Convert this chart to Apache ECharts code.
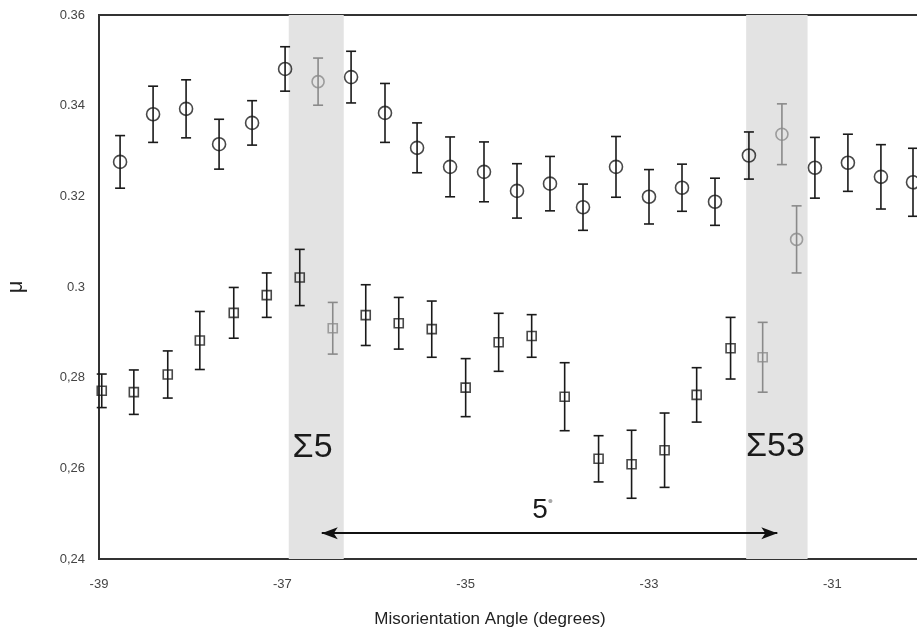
<!DOCTYPE html>
<html>
<head>
<meta charset="utf-8">
<script src="https://cdn.jsdelivr.net/npm/echarts@6/dist/echarts.min.js"></script>
<style>
html,body{margin:0;padding:0;background:#fff;}
#chart{width:917px;height:635px;}
</style>
</head>
<body>
<div id="chart"></div>
<script>
// ---- Data ----
const xTickLabels = [-39, -37, -35, -33, -31];
const yTickLabels = {"0.24":"0,24","0.26":"0,26","0.28":"0,28","0.3":"0.3","0.32":"0.32","0.34":"0.34","0.36":"0.36"};

// circles (upper series): angle, mu, error
const circleX   = [-38.77,-38.41,-38.05,-37.69,-37.33,-36.97,-36.25,-35.88,-35.53,-35.17,-34.80,-34.44,-34.08,-33.72,-33.36,-33.00,-32.64,-32.28,-31.91,-31.19,-30.83,-30.47,-30.12];
const circleY   = [0.3276,0.3381,0.3393,0.3315,0.3362,0.3481,0.3463,0.3384,0.3307,0.3265,0.3254,0.3212,0.3228,0.3176,0.3265,0.3199,0.3219,0.3188,0.3290,0.3263,0.3274,0.3243,0.3231];
const circleErr = [0.0058,0.0062,0.0064,0.0055,0.0049,0.0049,0.0057,0.0065,0.0055,0.0066,0.0066,0.0060,0.0060,0.0051,0.0067,0.0060,0.0052,0.0052,0.0052,0.0067,0.0063,0.0071,0.0075];
// grey circles
const circleGrayX   = [-36.61,-31.55,-31.39];
const circleGrayY   = [0.3453,0.3337,0.3105];
const circleGrayErr = [0.0052,0.0067,0.0074];

// squares (lower series)
const squareX   = [-38.97,-38.62,-38.25,-37.90,-37.53,-37.17,-36.81,-36.09,-35.73,-35.37,-35.00,-34.64,-34.28,-33.92,-33.55,-33.19,-32.83,-32.48,-32.11];
const squareY   = [0.2771,0.2768,0.2807,0.2882,0.2943,0.2982,0.3021,0.2938,0.2920,0.2907,0.2778,0.2878,0.2892,0.2758,0.2621,0.2609,0.2640,0.2762,0.2865];
const squareErr = [0.0037,0.0049,0.0052,0.0064,0.0056,0.0049,0.0062,0.0067,0.0057,0.0062,0.0064,0.0064,0.0047,0.0075,0.0051,0.0075,0.0082,0.0060,0.0068];
// grey squares
const squareGrayX   = [-36.45,-31.76];
const squareGrayY   = [0.2909,0.2845];
const squareGrayErr = [0.0057,0.0077];

// shaded bands (angle ranges) and their labels
const bands = [[-36.93,-36.33],[-31.94,-31.27]];
const bandLabels = [
  {name:"Σ5",  x:-36.67, y:0.2645},
  {name:"Σ53", x:-31.62, y:0.2647}
];
// 5° arrow
const arrowFrom = [-36.57, 0.2457];
const arrowTo   = [-31.60, 0.2457];
const arrowText = {text:"5", x:-34.16, y:0.2508};

// ---- Build ----
const zip3 = (xs, ys, es) => xs.map((x,i)=>[x, ys[i], es[i]]);
const FONT = '"Liberation Sans", Arial, sans-serif';

function errSeries(data, color) {
  return {
    type: 'custom',
    data: data,
    z: 3,
    silent: true,
    clip: false,
    renderItem: function (params, api) {
      const x = api.value(0), y = api.value(1), e = api.value(2);
      const t = api.coord([x, y + e]);
      const b = api.coord([x, y - e]);
      const hw = 5;
      const st = {stroke: color, lineWidth: 1.6};
      return {
        type: 'group',
        children: [
          {type:'line', shape:{x1:t[0], y1:t[1], x2:b[0], y2:b[1]}, style: st},
          {type:'line', shape:{x1:t[0]-hw, y1:t[1], x2:t[0]+hw, y2:t[1]}, style: st},
          {type:'line', shape:{x1:b[0]-hw, y1:b[1], x2:b[0]+hw, y2:b[1]}, style: st}
        ]
      };
    }
  };
}
function markSeries(data, symbol, size, color) {
  return {
    type: 'scatter',
    data: data.map(d => [d[0], d[1]]),
    symbol: symbol,
    symbolSize: size,
    z: 4,
    silent: true,
    itemStyle: {color: 'rgba(0,0,0,0)', borderColor: color, borderWidth: 1.6}
  };
}

const chart = echarts.init(document.getElementById('chart'));
const option = {
  animation: false,
  backgroundColor: '#fff',
  grid: {left: 99, top: 15, width: 825, height: 544, containLabel: false, outerBoundsMode: 'none',
         show: true, borderColor: '#333', borderWidth: 2, backgroundColor: 'transparent'},
  xAxis: {
    type: 'value', min: -39, max: -30, interval: 2,
    axisLine: {show: true, onZero: false, lineStyle: {color: '#333', width: 2}},
    axisTick: {show: false},
    splitLine: {show: false},
    axisLabel: {
      margin: 19, color: '#444', fontFamily: FONT, fontSize: 13,
      formatter: v => xTickLabels.includes(Math.round(v*100)/100) ? String(v) : ''
    }
  },
  yAxis: {
    type: 'value', min: 0.24, max: 0.36, interval: 0.02,
    name: 'μ', nameLocation: 'middle', nameRotate: 90, nameGap: 72,
    nameTextStyle: {fontFamily: FONT, fontSize: 22, color: '#222'},
    axisLine: {show: true, onZero: false, lineStyle: {color: '#333', width: 2}},
    axisTick: {show: false},
    splitLine: {show: false},
    axisLabel: {
      margin: 14, color: '#444', fontFamily: FONT, fontSize: 13,
      formatter: v => yTickLabels[String(Math.round(v*100)/100)] || ''
    }
  },
  graphic: [{
    type: 'text', x: 490, y: 619,
    style: {text: 'Misorientation Angle (degrees)', font: '17px ' + FONT, fill: '#222', align: 'center', verticalAlign: 'middle'}
  }],
  series: [
    {
      type: 'scatter', data: [], z: 1, silent: true,
      markArea: {
        silent: true,
        itemStyle: {color: '#e3e3e3'},
        data: bands.map(b => [{xAxis: b[0]}, {xAxis: b[1]}])
      },
      markLine: {
        silent: true,
        symbol: ['arrow', 'arrow'],
        symbolSize: [9, 16],
        lineStyle: {color: '#111', width: 2, type: 'solid'},
        label: {show: false},
        data: [[{coord: arrowFrom}, {coord: arrowTo}]]
      },
      markPoint: {
        silent: true,
        symbol: 'circle', symbolSize: 1,
        itemStyle: {color: 'rgba(0,0,0,0)'},
        label: {show: true, position: 'inside', color: '#1a1a1a', fontFamily: FONT, fontSize: 34},
        data: bandLabels.map(l => ({coord: [l.x, l.y], value: l.name, label: {formatter: l.name}})).concat([
          {coord: [arrowText.x, arrowText.y], label: {formatter: arrowText.text + '{d|•}', fontSize: 28, rich: {d: {fontSize: 15, color: '#aaa', verticalAlign: 'top', padding: [0,0,16,0]}}}}
        ])
      }
    },
    errSeries(zip3(circleX, circleY, circleErr), '#1a1a1a'),
    errSeries(zip3(circleGrayX, circleGrayY, circleGrayErr), '#8a8a8a'),
    errSeries(zip3(squareX, squareY, squareErr), '#1a1a1a'),
    errSeries(zip3(squareGrayX, squareGrayY, squareGrayErr), '#8a8a8a'),
    markSeries(zip3(circleX, circleY, circleErr), 'circle', 13, '#1a1a1a'),
    markSeries(zip3(circleGrayX, circleGrayY, circleGrayErr), 'circle', 12, '#8a8a8a'),
    markSeries(zip3(squareX, squareY, squareErr), 'rect', 9, '#1a1a1a'),
    markSeries(zip3(squareGrayX, squareGrayY, squareGrayErr), 'rect', 9, '#8a8a8a')
  ]
};
chart.setOption(option);
</script>
</body>
</html>
